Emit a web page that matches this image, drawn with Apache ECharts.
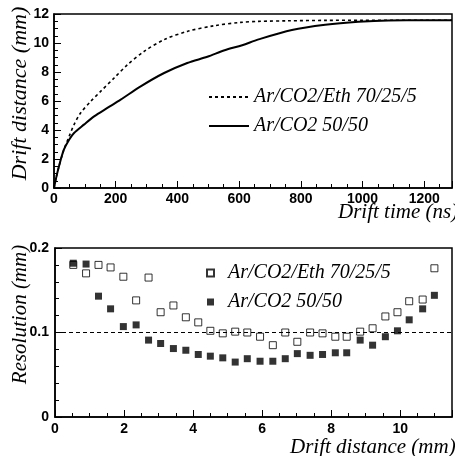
<!DOCTYPE html>
<html>
<head>
<meta charset="utf-8">
<script src="https://cdn.jsdelivr.net/npm/echarts@6/dist/echarts.min.js"></script>
<style>
  html, body { margin: 0; padding: 0; background: #fff; }
  #chart { width: 455px; height: 456px; }
</style>
</head>
<body>
<div id="chart"></div>
<script>
// top panel: drift distance vs drift time
const ethTime = [0, 8, 16, 32, 49, 65, 86, 119, 151, 195, 238, 292, 357, 432, 519, 605, 663, 760, 880, 1000, 1100, 1200, 1290];
const ethDist = [0, 0.8, 1.49, 2.64, 3.56, 4.37, 5.17, 5.97, 6.66, 7.59, 8.5, 9.42, 10.23, 10.8, 11.19, 11.42, 11.49, 11.53, 11.56, 11.57, 11.57, 11.57, 11.57];
const co2Time = [0, 8, 16, 32, 49, 65, 97, 130, 173, 216, 281, 357, 432, 497, 553, 610, 663, 771, 879, 987, 1084, 1200, 1290];
const co2Dist = [0, 0.8, 1.49, 2.64, 3.33, 3.79, 4.37, 4.94, 5.52, 6.09, 7.01, 7.93, 8.62, 9.05, 9.5, 9.85, 10.25, 10.9, 11.26, 11.47, 11.56, 11.57, 11.57];

// bottom panel: resolution vs drift distance
const resDist = [0.53, 0.90, 1.26, 1.61, 1.98, 2.35, 2.71, 3.06, 3.43, 3.79, 4.15, 4.50, 4.86, 5.22, 5.57, 5.94, 6.31, 6.67, 7.02, 7.39, 7.75, 8.12, 8.45, 8.84, 9.2, 9.57, 9.92, 10.26, 10.65, 10.99];
const ethRes = [0.180, 0.170, 0.180, 0.177, 0.166, 0.138, 0.165, 0.124, 0.132, 0.118, 0.112, 0.102, 0.099, 0.101, 0.100, 0.095, 0.085, 0.100, 0.089, 0.100, 0.099, 0.095, 0.095, 0.101, 0.105, 0.119, 0.124, 0.137, 0.139, 0.176];
const co2Res = [0.182, 0.181, 0.143, 0.128, 0.107, 0.109, 0.091, 0.087, 0.081, 0.079, 0.074, 0.072, 0.070, 0.065, 0.069, 0.066, 0.066, 0.069, 0.075, 0.073, 0.074, 0.076, 0.076, 0.091, 0.085, 0.095, 0.102, 0.115, 0.128, 0.144];
const refLevel = 0.1;

const legendText = {
  ethLine: 'Ar/CO2/Eth 70/25/5',
  co2Line: 'Ar/CO2 50/50',
  ethRes: 'Ar/CO2/Eth 70/25/5',
  co2Res: 'Ar/CO2 50/50'
};

const pairs = (xs, ys) => xs.map((x, i) => [x, ys[i]]);

const tickFont = { color: '#000', fontFamily: 'Liberation Sans', fontWeight: 'bold', fontSize: 14, formatter: (v) => String(v) };
const nameFont = { color: '#000', fontFamily: 'Liberation Serif', fontStyle: 'italic', fontSize: 21 };
const legendFont = { color: '#000', fontFamily: 'Liberation Serif', fontStyle: 'italic', fontSize: 20, lineHeight: 20 };
const blackLine = { lineStyle: { color: '#000', width: 1.5 } };

const chart = echarts.init(document.getElementById('chart'));

const option = {
  animation: false,
  backgroundColor: '#fff',
  grid: [
    { left: 54, top: 14, width: 398, height: 174, show: true, borderColor: '#000', borderWidth: 1.5, backgroundColor: 'transparent', containLabel: false, outerBoundsMode: 'none' },
    { left: 55, top: 248, width: 397, height: 169, show: true, borderColor: '#000', borderWidth: 1.5, backgroundColor: 'transparent', containLabel: false, outerBoundsMode: 'none' }
  ],
  xAxis: [
    {
      gridIndex: 0, type: 'value', min: 0, max: 1290, interval: 200,
      axisLine: blackLine,
      axisTick: { inside: true, length: 7, lineStyle: { color: '#000' } },
      minorTick: { show: true, splitNumber: 4, length: 4, lineStyle: { color: '#000' } },
      axisLabel: Object.assign({ margin: 4, showMaxLabel: false }, tickFont),
      splitLine: { show: false },
      name: 'Drift time (ns)', nameLocation: 'end', nameGap: -114, nameMoveOverlap: false,
      nameTextStyle: Object.assign({ verticalAlign: 'top', padding: [14, 0, 0, 0] }, nameFont)
    },
    {
      gridIndex: 1, type: 'value', min: 0, max: 11.5, interval: 2,
      axisLine: blackLine,
      axisTick: { inside: true, length: 7, lineStyle: { color: '#000' } },
      minorTick: { show: true, splitNumber: 4, length: 4, lineStyle: { color: '#000' } },
      axisLabel: Object.assign({ margin: 5, showMaxLabel: false }, tickFont),
      splitLine: { show: false },
      name: 'Drift distance (mm)', nameLocation: 'end', nameGap: -162, nameMoveOverlap: false,
      nameTextStyle: Object.assign({ verticalAlign: 'top', padding: [20, 0, 0, 0] }, nameFont)
    }
  ],
  yAxis: [
    {
      gridIndex: 0, type: 'value', min: 0, max: 12, interval: 2,
      axisLine: blackLine,
      axisTick: { inside: true, length: 7, lineStyle: { color: '#000' } },
      minorTick: { show: true, splitNumber: 4, length: 4, lineStyle: { color: '#000' } },
      axisLabel: Object.assign({ margin: 5 }, tickFont),
      splitLine: { show: false },
      name: 'Drift distance (mm)', nameLocation: 'middle', nameGap: 23, nameMoveOverlap: false,
      nameTextStyle: Object.assign({ padding: [0, 0, 0, 15] }, nameFont, { fontSize: 22 })
    },
    {
      gridIndex: 1, type: 'value', min: 0, max: 0.2, interval: 0.1,
      axisLine: blackLine,
      axisTick: { inside: true, length: 7, lineStyle: { color: '#000' } },
      minorTick: { show: true, splitNumber: 5, length: 4, lineStyle: { color: '#000' } },
      axisLabel: Object.assign({ margin: 6 }, tickFont),
      splitLine: { show: false },
      name: 'Resolution (mm)', nameLocation: 'middle', nameGap: 24, nameMoveOverlap: false,
      nameTextStyle: Object.assign({ padding: [0, 0, 0, 36] }, nameFont)
    }
  ],
  legend: [
    {
      data: ['ethLine', 'co2Line'],
      orient: 'vertical', left: 208, top: 87, padding: 0,
      itemWidth: 40, itemHeight: 14, itemGap: 9,
      itemStyle: { opacity: 0 },
      formatter: (n) => legendText[n],
      textStyle: legendFont
    },
    {
      data: ['ethRes', 'co2Res'],
      orient: 'vertical', left: 206, top: 263, padding: 0,
      itemWidth: 7, itemHeight: 7, itemGap: 9,
      formatter: (n) => legendText[n],
      textStyle: Object.assign({ padding: [0, 0, 0, 9] }, legendFont)
    }
  ],
  series: [
    {
      name: 'ethLine', type: 'line', xAxisIndex: 0, yAxisIndex: 0,
      data: pairs(ethTime, ethDist), smooth: 0.3, symbol: 'none',
      itemStyle: { color: '#000' },
      lineStyle: { color: '#000', width: 1.6, type: [3, 3] }
    },
    {
      name: 'co2Line', type: 'line', xAxisIndex: 0, yAxisIndex: 0,
      data: pairs(co2Time, co2Dist), smooth: 0.3, symbol: 'none',
      itemStyle: { color: '#000' },
      lineStyle: { color: '#000', width: 2 }
    },
    {
      name: 'ethRes', type: 'scatter', xAxisIndex: 1, yAxisIndex: 1,
      data: pairs(resDist, ethRes), symbol: 'rect', symbolSize: 7,
      itemStyle: { color: '#fff', borderColor: '#000', borderWidth: 1 }
    },
    {
      name: 'co2Res', type: 'scatter', xAxisIndex: 1, yAxisIndex: 1,
      data: pairs(resDist, co2Res), symbol: 'rect', symbolSize: 7,
      itemStyle: { color: '#000' },
      markLine: {
        silent: true, symbol: 'none', label: { show: false },
        lineStyle: { color: '#000', width: 1, type: [4, 3] },
        data: [{ yAxis: refLevel }]
      }
    }
  ]
};

chart.setOption(option);
</script>
</body>
</html>
